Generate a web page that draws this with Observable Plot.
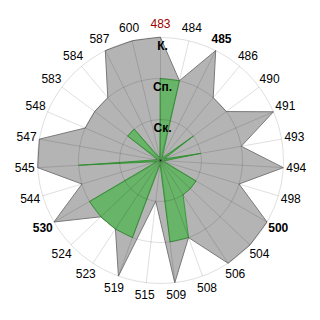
<!DOCTYPE html>
<html><head><meta charset="utf-8">
<script src="https://cdn.jsdelivr.net/npm/d3@7"></script>
<script src="https://cdn.jsdelivr.net/npm/@observablehq/plot@0.6"></script>
<style>body{margin:0;background:#fff} #chart{width:320px;height:320px}</style>
</head><body><div id="chart"></div>
<script>
const categories = ["483","484","485","486","490","491","493","494","498","500","504","506","508","509","515","519","523","524","530","544","545","547","548","583","584","587","600"];
const grayValues  = [3,2,3,2,2,3,2,3,2,3,3,3,2,3,1,3,2,2,3,2,3,3,2,2,2,3,3];
const greenValues = [2,2,0.1,0.1,1,0.1,1,0.1,0.1,1,1,1,2,2,0.1,2,2,2,2,0.1,2,0.1,0.1,1,1,0.1,0.1];
const ringValues = [1,2,3];
const ringLabels = ["Ск.","Сп.","К."];
const boldCategories = ["485","500","530"];
const highlightCategory = "483";

const n = categories.length;
const maxV = 3;
const S = maxV * 160 / 123;
const labelR = maxV * 136 / 123;
const rows = categories.map((c, i) => ({cat: c, a: i * 2 * Math.PI / n, gray: grayValues[i], green: greenValues[i]}));
const px = (v) => (d) => v(d) * Math.sin(d.a);
const py = (v) => (d) => v(d) * Math.cos(d.a);
const font = "Arial, 'Liberation Sans', sans-serif";

const chart = Plot.plot({
  width: 320, height: 320, margin: 0,
  style: {fontFamily: font, background: "#fff"},
  x: {domain: [-S, S], axis: null},
  y: {domain: [-S, S], axis: null},
  r: {type: "linear", domain: [0, maxV], range: [0, 123]},
  marks: [
    Plot.line(rows, {x: px(d => d.gray), y: py(d => d.gray), curve: "linear-closed", fill: "#b4b4b4", stroke: "#7a7a7a", strokeWidth: 1}),
    Plot.line(rows, {x: px(d => d.green), y: py(d => d.green), curve: "linear-closed", fill: "#68b468", stroke: "#3c9c3c", strokeWidth: 1}),
    Plot.dot(ringValues, {x: 0, y: 0, r: d => d, fill: "none", stroke: "black", strokeOpacity: 0.13, strokeWidth: 1}),
    Plot.link(rows, {x1: 0, y1: 0, x2: px(() => maxV), y2: py(() => maxV), stroke: "black", strokeOpacity: 0.13, strokeWidth: 1}),
    Plot.text(rows.filter(d => d.cat !== highlightCategory && !boldCategories.includes(d.cat)), {x: px(() => labelR), y: py(() => labelR), text: "cat", fontSize: 12, fill: "black"}),
    Plot.text(rows.filter(d => boldCategories.includes(d.cat)), {x: px(() => labelR), y: py(() => labelR), text: "cat", fontSize: 12, fontWeight: "bold", fill: "black"}),
    Plot.text(rows.filter(d => d.cat === highlightCategory), {x: px(() => labelR), y: py(() => labelR), text: "cat", fontSize: 12, fill: "#9a0000"}),
    Plot.text(ringValues, {x: 0, y: d => d, text: (d, i) => ringLabels[i], dx: 2, dy: 8.5, fontSize: 12, fontWeight: "bold", fill: "black"})
  ]
});
document.getElementById("chart").appendChild(chart);
</script>
</body></html>
